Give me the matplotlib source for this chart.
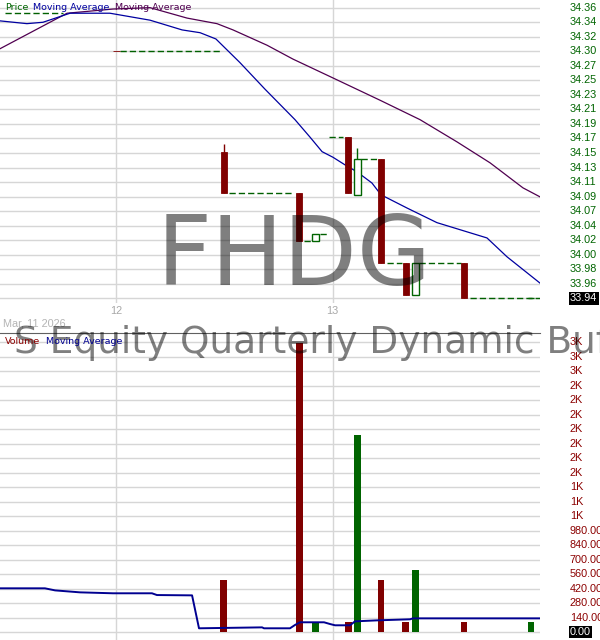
import matplotlib
matplotlib.use("Agg")
import matplotlib.pyplot as plt

# --- data (x in fractional days of March 2026) ---
candle_day = [12.002, 12.498, 12.845, 12.921, 13.071, 13.114, 13.223, 13.338, 13.382, 13.606, 13.915]
candle_open = [34.296, 34.151, 34.091, 34.022, 34.172, 34.089, 34.140, 33.991, 33.945, 33.991, 33.940]
candle_close = [34.295, 34.091, 34.022, 34.032, 34.091, 34.140, 33.991, 33.945, 33.991, 33.940, 33.940]
candle_high = [34.296, 34.162, 34.091, 34.032, 34.172, 34.156, 34.140, 33.991, 33.991, 33.991, 33.940]
candle_low = [34.295, 34.091, 34.022, 34.022, 34.091, 34.089, 33.991, 33.945, 33.945, 33.940, 33.940]
volume = [0, 500, 2790, 90, 100, 1900, 500, 100, 600, 100, 100]

# flat price stretches (no trades) drawn dashed
flat_start = [11.488, 12.018, 12.521, 12.868, 12.941, 12.983, 13.131, 13.251, 13.398, 13.634]
flat_end = [11.755, 12.480, 12.821, 12.900, 12.974, 13.048, 13.205, 13.320, 13.592, 13.957]
flat_price = [34.350, 34.295, 34.091, 34.022, 34.032, 34.172, 34.140, 33.991, 33.991, 33.940]

ma_fast_day = [11.465, 11.589, 11.663, 11.788, 11.972, 12.157, 12.305, 12.388, 12.461, 12.572,
               12.687, 12.826, 12.895, 12.951, 13.001, 13.057, 13.112, 13.181, 13.223, 13.343,
               13.481, 13.712, 13.804, 13.957]
ma_fast = [34.339, 34.335, 34.337, 34.350, 34.350, 34.340, 34.326, 34.322, 34.313, 34.279,
           34.241, 34.197, 34.172, 34.151, 34.143, 34.132, 34.122, 34.106, 34.089, 34.070,
           34.049, 34.027, 34.000, 33.962]

ma_slow_day = [11.465, 11.774, 11.986, 12.157, 12.328, 12.466, 12.540, 12.697, 12.817, 13.001,
               13.218, 13.403, 13.574, 13.726, 13.878, 13.957]
ma_slow = [34.299, 34.350, 34.356, 34.358, 34.343, 34.335, 34.326, 34.304, 34.284, 34.257,
           34.225, 34.197, 34.165, 34.135, 34.099, 34.086]

vol_ma_day = [11.465, 11.672, 11.719, 11.834, 11.986, 12.166, 12.189, 12.351, 12.383, 12.674,
              12.683, 12.803, 12.826, 12.849, 12.960, 12.988, 13.011, 13.080, 13.103, 13.209,
              13.357, 13.371, 13.957]
vol_ma = [422, 422, 402, 383, 374, 374, 357, 354, 36, 45,
          36, 36, 68, 94, 94, 77, 65, 65, 103, 113,
          123, 132, 132]

price_ticks = [33.9400, 33.9609, 33.9818, 34.0027, 34.0236, 34.0446, 34.0655, 34.0864, 34.1073,
               34.1282, 34.1491, 34.1700, 34.1909, 34.2118, 34.2327, 34.2537, 34.2746, 34.2955,
               34.3164, 34.3373, 34.3582]
price_labels = ["33.94", "33.96", "33.98", "34.00", "34.02", "34.04", "34.07", "34.09", "34.11",
                "34.13", "34.15", "34.17", "34.19", "34.21", "34.23", "34.25", "34.27", "34.30",
                "34.32", "34.34", "34.36"]
vol_ticks = list(range(0, 2801, 140))
vol_labels = ["0.00", "140.00", "280.00", "420.00", "560.00", "700.00", "840.00", "980.00",
              "1K", "1K", "1K", "2K", "2K", "2K", "2K", "2K", "2K", "2K", "3K", "3K", "3K"]
day_ticks = [12, 13]
day_labels = ["12", "13"]

red = "#800000"
green = "#006400"
grid_c = "#d6d6d6"
lab_font = "Liberation Sans"

fig = plt.figure(figsize=(6, 6.4), dpi=100)
ax = fig.add_axes([0, 1 - 303 / 640, 0.9, 303 / 640])
axv = fig.add_axes([0, 0, 0.9, 307 / 640])

xlim = (11.4647, 13.9566)
for a in (ax, axv):
    a.set_xlim(*xlim)
    a.set_xticks(day_ticks)
    a.tick_params(length=0)
    a.grid(True, color=grid_c, lw=1)
    a.set_axisbelow(True)
    for s in a.spines.values():
        s.set_visible(False)
    a.set_yticklabels([])

ax.set_ylim(33.9335, 34.369)
ax.set_yticks(price_ticks)
ax.set_xticklabels(day_labels, color="#a8a8a8", fontsize=7.8, family=lab_font)
ax.tick_params(axis="x", pad=2)
axv.set_xticklabels([])
axv.set_ylim(-77, 2887)
axv.set_yticks(vol_ticks)
axv.spines["top"].set_visible(True)
axv.spines["top"].set_color("#606060")

# price panel
ax.plot(ma_slow_day, ma_slow, color="#500050", lw=0.9)
ax.plot(ma_fast_day, ma_fast, color="#0000a0", lw=0.9)
ax.hlines(flat_price, flat_start, flat_end, colors="#006000", lw=1.0, linestyles=(0, (4.5, 2.2)))
w = 0.03
for d, o, h, l, c in zip(candle_day, candle_open, candle_high, candle_low, candle_close):
    up = c >= o
    col = green if up else red
    ax.vlines(d, l, h, color=col, lw=1)
    if up:
        ax.bar(d, c - o, bottom=o, width=w, facecolor="white", edgecolor=col, lw=1, zorder=3)
    else:
        ax.bar(d, o - c, bottom=c, width=w, color=col, edgecolor=col, lw=0.6, zorder=3)

# volume panel
vcols = [green if c >= o else red for o, c in zip(candle_open, candle_close)]
axv.bar(candle_day, volume, width=0.032, color=vcols, zorder=3)
axv.plot(vol_ma_day, vol_ma, color="#000090", lw=1.4, zorder=4)

# right-hand scales
tr = ax.get_yaxis_transform()
for t, s in zip(price_ticks, price_labels):
    if s == "33.94":
        ax.text(570 / 540, t, s, transform=tr, va="center", ha="left", color="white",
                fontsize=7.8, family=lab_font,
                bbox=dict(boxstyle="square,pad=0.12", fc="black", ec="none"))
    else:
        ax.text(570 / 540, t, s, transform=tr, va="center", ha="left", color=green,
                fontsize=7.8, family=lab_font)
trv = axv.get_yaxis_transform()
for t, s in zip(vol_ticks, vol_labels):
    if t == 0:
        axv.text(570 / 540, t, s, transform=trv, va="center", ha="left", color="white",
                 fontsize=7.8, family=lab_font,
                 bbox=dict(boxstyle="square,pad=0.12", fc="black", ec="none"))
    else:
        axv.text(570 / 540, t, s, transform=trv, va="center", ha="left", color="#8b0000",
                 fontsize=7.8, family=lab_font)

# watermarks
fig.text(294 / 600, 1 - 285 / 640, "FHDG", ha="center", va="baseline", fontsize=69,
         family="DejaVu Sans", color="black", alpha=0.5, zorder=10)
fig.text(14.5 / 600, 1 - 353 / 640, "S Equity Quarterly Dynamic Buffer ETF", ha="left",
         va="baseline", fontsize=27, family="DejaVu Sans", color="black", alpha=0.5, zorder=10)

# legends and date
leg = dict(fontsize=6.8, family="DejaVu Sans", va="center", ha="left", zorder=11)
fig.text(5 / 600, 1 - 7 / 640, "Price", color=green, **leg)
fig.text(33 / 600, 1 - 7 / 640, "Moving Average", color="#0000a0", **leg)
fig.text(115 / 600, 1 - 7 / 640, "Moving Average", color="#500050", **leg)
fig.text(5 / 600, 1 - 341 / 640, "Volume", color="#8b0000", **leg)
fig.text(46 / 600, 1 - 341 / 640, "Moving Average", color="#000090", **leg)
fig.text(3 / 600, 1 - 323 / 640, "Mar, 11 2026", color="#b4b4b4", fontsize=7.8,
         family=lab_font, va="center", ha="left")

fig.savefig("out.png", dpi=100)
